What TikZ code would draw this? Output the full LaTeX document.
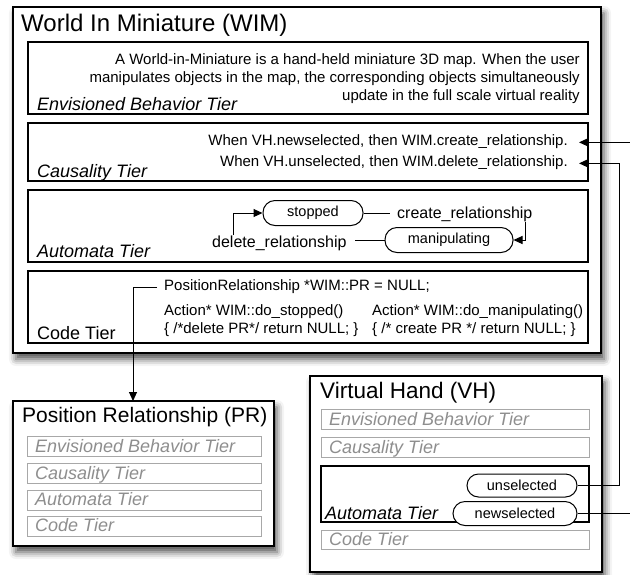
\documentclass[tikz,border=0pt]{standalone}
\usepackage{fontspec}
\setmainfont{Liberation Sans}
\usetikzlibrary{arrows.meta,shadows.blur,calc}
\definecolor{tiergray}{HTML}{8E8E8E}
\definecolor{tierline}{HTML}{A8A8A8}
\begin{document}
\begin{tikzpicture}[x=1pt,y=-1pt,
  frame/.style={draw=black, line width=1.2pt, fill=white, inner sep=0pt, outer sep=0pt, anchor=north west},
  module/.style={frame, blur shadow={shadow xshift=3pt, shadow yshift=-6pt, shadow blur radius=7pt, shadow opacity=70}},
  tier/.style={frame},
  ghost/.style={draw=tierline, line width=1pt, fill=white, inner sep=0pt, outer sep=0pt, anchor=north west},
  ghostlabel/.style={text=tiergray, font=\fontsize{18}{20}\selectfont\itshape, anchor=base west, inner sep=0pt},
  tierlabel/.style={font=\fontsize{18}{20}\selectfont\itshape, anchor=base west, inner sep=0pt},
  title/.style={anchor=base west, inner sep=0pt},
  body/.style={font=\fontsize{15}{18}\selectfont, inner sep=0pt},
  state/.style={draw, line width=1pt, fill=white, rounded corners=12pt, minimum height=25pt, inner sep=0pt, font=\fontsize{14.5}{17}\selectfont},
  event/.style={font=\fontsize{16}{19}\selectfont, inner sep=0pt, anchor=base west},
  link/.style={line width=1pt},
  arr/.style={link, -{Triangle[length=9pt,width=8pt]}},
]
\useasboundingbox (0,0) rectangle (630,574);

% ---------- World In Miniature ----------
\node[module, minimum width=588pt, minimum height=346pt] (wim) at (13,7) {};
\node[title, font=\fontsize{24}{28}\selectfont] (wimtitle) at (21,31) {World In Miniature (WIM)};
\node[tier, minimum width=560pt, minimum height=72pt] (wimenv) at (28,42) {};
\node[tier, minimum width=560pt, minimum height=58pt] (wimcaus) at (28,123) {};
\node[tier, minimum width=560pt, minimum height=72pt] (wimauto) at (28,190) {};
\node[tier, minimum width=560pt, minimum height=72pt] (wimcode) at (28,271) {};

\node[tierlabel] (lenv) at (37,110) {Envisioned Behavior Tier};
\node[tierlabel] (lcaus) at (37,177) {Causality Tier};
\node[tierlabel] (lauto) at (37,257) {Automata Tier};
\node[tierlabel, font=\fontsize{18}{20}\selectfont] (lcode) at (37,339) {Code Tier};

% envisioned behavior
\node[body, anchor=base east] (env1) at (580,64) {A World-in-Miniature is a hand-held miniature 3D map. When the user};
\node[body, anchor=base east] (env2) at (580,82) {manipulates objects in the map, the corresponding objects simultaneously};
\node[body, anchor=base east] (env3) at (580,100) {update in the full scale virtual reality};

% causality rules
\node[body, anchor=base east] (rule1) at (568,145) {When VH.newselected, then WIM.create\_relationship.};
\node[body, anchor=base east] (rule2) at (568,166) {When VH.unselected, then WIM.delete\_relationship.};

% automaton
\node[state, minimum width=100pt] (stopped) at (313,213) {stopped};
\node[state, minimum width=128pt] (manip) at (449,240) {manipulating};
\node[event] (create) at (397,218) {create\_relationship};
\node[event] (delete) at (212,247) {delete\_relationship};

% code
\node[body, anchor=base west] (prdecl) at (164,290) {PositionRelationship *WIM::PR = NULL;};
\node[body, anchor=base west] (dostop) at (164,315) {Action* WIM::do\_stopped()};
\node[body, anchor=base west] (dostopbody) at (164,333) {\{ /*delete PR*/ return NULL; \}};
\node[body, anchor=base west] (domanip) at (372,315) {Action* WIM::do\_manipulating()};
\node[body, anchor=base west] (domanipbody) at (372,333) {\{ /* create PR */ return NULL; \}};

% ---------- Position Relationship ----------
\node[module, minimum width=261pt, minimum height=145pt] (pr) at (13,401) {};
\node[title, font=\fontsize{21}{24}\selectfont] (prtitle) at (22,422) {Position Relationship (PR)};
\node[ghost, minimum width=234pt, minimum height=20pt] (prenv) at (27,436) {};
\node[ghost, minimum width=234pt, minimum height=20pt] (prcaus) at (27,463) {};
\node[ghost, minimum width=234pt, minimum height=20pt] (prauto) at (27,490) {};
\node[ghost, minimum width=234pt, minimum height=20pt] (prcode) at (27,516) {};
\node[ghostlabel] (prlenv) at (35,452) {Envisioned Behavior Tier};
\node[ghostlabel] (prlcaus) at (35,479) {Causality Tier};
\node[ghostlabel] (prlauto) at (35,505) {Automata Tier};
\node[ghostlabel] (prlcode) at (35,531) {Code Tier};

% ---------- Virtual Hand ----------
\node[module, minimum width=292pt, minimum height=196pt] (vh) at (310,376) {};
\node[title, font=\fontsize{22.5}{26}\selectfont] (vhtitle) at (320,398) {Virtual Hand (VH)};
\node[ghost, minimum width=268pt, minimum height=20pt] (vhenv) at (321,409) {};
\node[ghost, minimum width=268pt, minimum height=20pt] (vhcaus) at (321,437) {};
\node[tier, minimum width=268pt, minimum height=56pt] (vhauto) at (321,466) {};
\node[ghost, minimum width=268pt, minimum height=19pt] (vhcode) at (321,530) {};
\node[ghostlabel] (vhlenv) at (329,425) {Envisioned Behavior Tier};
\node[ghostlabel] (vhlcaus) at (329,453) {Causality Tier};
\node[tierlabel] (vhlauto) at (325,519) {Automata Tier};
\node[ghostlabel] (vhlcode) at (329,545) {Code Tier};
\node[state, minimum width=110pt, minimum height=23pt, rounded corners=11.5pt] (unsel) at (522,485.5) {unselected};
\node[state, minimum width=124pt, minimum height=24pt] (newsel) at (515,513.5) {newselected};

% ---------- connectors ----------
\coordinate (edge) at (630,0);
\coordinate (rail) at (619,0);
\draw[link] (stopped.east) -- ($(stopped.east -| create.west)+(-7,0)$);
\draw[arr] ($(create.south east)+(-7,0)$) |- (manip.east);
\draw[link] (manip.west) -- ($(manip.west -| delete.east)+(8,0)$);
\draw[arr] ($(delete.north west)+(21,0)$) |- (stopped.west);
\draw[arr] ($(prdecl.mid west)+(-7,0)$) -| ($(pr.north)+(-10.5,0)$);
\draw[link] (newsel.east) -- (newsel.east -| edge);
\draw[arr] (edge |- rule1.mid east) -- ($(rule1.mid east)+(11,0)$);
\draw[arr] (unsel.east) -- (unsel.east -| rail) |- ($(rule2.mid east)+(11,0)$);
\end{tikzpicture}
\end{document}
